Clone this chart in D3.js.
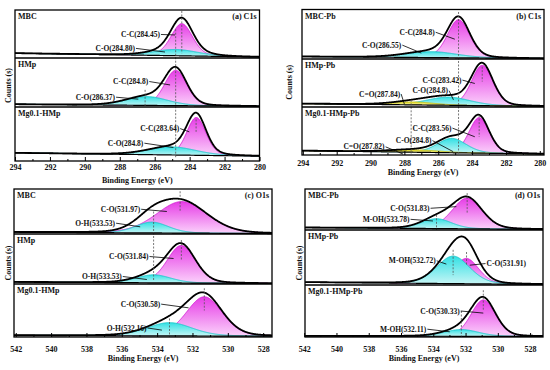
<!DOCTYPE html>
<html>
<head>
<meta charset="utf-8">
<script src="https://cdn.jsdelivr.net/npm/d3@7"></script>
<style>
body { margin: 0; background: #fff; }
text { font-family: "Liberation Serif", "Times New Roman", serif; font-weight: bold; font-size: 8px; fill: #111; }
text.peak-label { font-size: 7.5px; }
</style>
</head>
<body>
<svg id="chart" width="550" height="370"></svg>
<script>
/** data */
var panelTitles = ['(a) C1s', '(b) C1s', '(c) O1s', '(d) O1s'];
var sampleNames = [
	['MBC', 'HMp', 'Mg0.1-HMp'],
	['MBC-Pb', 'HMp-Pb', 'Mg0.1-HMp-Pb'],
	['MBC', 'HMp', 'Mg0.1-HMp'],
	['MBC-Pb', 'HMp-Pb', 'Mg0.1-HMp-Pb']
];
var energyRanges = [[294, 280], [294.05, 279.75], [542.1, 527.5], [541.95, 527.2]];
var majorTicks = [
	[294, 292, 290, 288, 286, 284, 282, 280],
	[294, 292, 290, 288, 286, 284, 282, 280],
	[542, 540, 538, 536, 534, 532, 530, 528],
	[542, 540, 538, 536, 534, 532, 530, 528]
];
var minorTicks = [
	[293, 291, 289, 287, 285, 283, 281],
	[293, 291, 289, 287, 285, 283, 281],
	[541, 539, 537, 535, 533, 531, 529],
	[541, 539, 537, 535, 533, 531, 529]
];
// background level at the high and low energy ends, per sample
var baselines = [
	[[0.10, 0.02], [0.055, 0.014], [0.15, 0.09]],
	[[0.05, 0.01], [0.07, 0.014], [0.09, 0.02]],
	[[0.04, 0.01], [0.04, 0.01], [0.03, 0.015]],
	[[0.06, 0.015], [0.05, 0.01], [0.02, 0.01]]
];
// fitted components: [kind, centre (eV), height, fwhm (eV)]; kind 0 magenta, 1 cyan, 2 yellow
var peaks = [
	[
		[[0, 284.45, 0.67, 1.45], [1, 284.8, 0.13, 3.0]],
		[[0, 284.8, 0.72, 1.5], [1, 286.45, 0.18, 2.8]],
		[[0, 283.62, 0.70, 1.3], [1, 285.0, 0.15, 3.2]]
	],
	[
		[[0, 284.8, 0.77, 1.55], [1, 286.4, 0.12, 3.5]],
		[[0, 283.4, 0.84, 1.5], [1, 285.4, 0.17, 3.0], [2, 287.5, 0.06, 3.0]],
		[[0, 283.58, 0.74, 1.4], [1, 285.2, 0.30, 2.0], [2, 287.4, 0.05, 3.5]]
	],
	[
		[[0, 532.6, 0.70, 3.4], [1, 534.3, 0.24, 2.2]],
		[[0, 532.63, 0.75, 1.9], [1, 534.2, 0.16, 2.3]],
		[[0, 531.33, 0.74, 2.4], [1, 533.3, 0.25, 3.0]]
	],
	[
		[[0, 531.9, 0.75, 2.2], [1, 533.8, 0.24, 2.2]],
		[[0, 531.95, 0.46, 1.8], [1, 532.77, 0.50, 2.4]],
		[[0, 530.9, 0.70, 1.8], [1, 532.26, 0.13, 2.5]]
	]
];
// annotations: [text, text eV, text level, arrow eV, arrow level, anchor]
var peakLabels = [
	[
		[['C-C(284.45)', 285.7, 0.49, 284.84, 0.48, 'end'], ['C-O(284.80)', 287.13, 0.2, 285.41, 0.125, 'end']],
		[['C-C(284.8)', 286.37, 0.52, 285.12, 0.45, 'end'], ['C-O(286.37)', 288.27, 0.2, 286.94, 0.16, 'end']],
		[['C-C(283.64)', 284.6, 0.6, 284.02, 0.54, 'end'], ['C-O(284.8)', 286.65, 0.33, 284.93, 0.25, 'end']]
	],
	[
		[['C-C(284.8)', 286.21, 0.54, 285.02, 0.40, 'end'], ['C-O(286.55)', 288.18, 0.28, 287.0, 0.12, 'end']],
		[['C-C(283.42)', 284.63, 0.56, 283.84, 0.49, 'end'], ['C-O(284.8)', 285.42, 0.34, 285.1, 0.15, 'end'], ['C=O(287.84)', 288.25, 0.27, 288.0, 0.06, 'end']],
		[['C-C(283.56)', 285.22, 0.56, 283.84, 0.38, 'end'], ['C-O(284.8)', 286.4, 0.3, 285.12, 0.07, 'end'], ['C=O(287.82)', 289.17, 0.17, 288.08, 0.02, 'end']]
	],
	[
		[['C-O(531.97)', 534.96, 0.55, 533.45, 0.5, 'end'], ['O-H(533.53)', 536.38, 0.24, 534.96, 0.16, 'end']],
		[['C-O(531.84)', 534.49, 0.55, 533.07, 0.51, 'end'], ['O-H(533.53)', 536.0, 0.15, 534.58, 0.09, 'end']],
		[['C-O(530.58)', 533.83, 0.62, 532.22, 0.55, 'end'], ['O-H(532.16)', 534.6, 0.17, 533.73, 0.13, 'end']]
	],
	[
		[['C-O(531.83)', 534.23, 0.53, 532.57, 0.57, 'end'], ['M-OH(533.78)', 535.47, 0.26, 534.02, 0.22, 'end']],
		[['M-OH(532.72)', 533.85, 0.44, 533.19, 0.38, 'end'], ['C-O(531.91)', 530.7, 0.39, 531.74, 0.36, 'start']],
		[['C-O(530.33)', 532.36, 0.5, 530.9, 0.46, 'end'], ['M-OH(532.11)', 534.43, 0.15, 532.98, 0.1, 'end']]
	]
];
// dashed guides: [eV, from row, from level, to row, to level]
var guideLines = [
	[[284.8, 0, 0.6, 2, 0.07], [284.45, 0, 0.98, 0, 0.1], [286.55, 1, 0.35, 1, 0.0], [283.63, 2, 0.77, 2, 0.54]],
	[[284.8, 0, 0.95, 2, 0.03], [287.6, 1, 0.15, 2, 0.03], [283.4, 1, 0.84, 1, 0.53], [283.58, 2, 0.83, 2, 0.38]],
	[[534.2, 0, 0.5, 1, 0.05], [532.7, 0, 0.95, 0, 0.5], [532.63, 1, 0.88, 1, 0.48], [531.33, 2, 0.92, 2, 0.5], [533.3, 2, 0.35, 2, 0.0]],
	[[531.9, 0, 0.9, 0, 0.4], [533.8, 0, 0.37, 0, 0.0], [532.77, 1, 0.64, 1, 0.18], [531.94, 1, 0.6, 1, 0.36], [530.9, 2, 0.9, 2, 0.5], [532.26, 2, 0.5, 2, 0.0]]
];

/** layout */
var layout = [
	{ x0: 15, x1: 259.5, rows: [10, 58, 107, 161], tickY: 170.5, titleY: 183, yLabelX: 8 },
	{ x0: 302, x1: 544, rows: [9.5, 59, 107, 155], tickY: 166, titleY: 174.5, yLabelX: 289 },
	{ x0: 14, x1: 272, rows: [189, 234, 284, 337], tickY: 352, titleY: 361, yLabelX: 8 },
	{ x0: 305, x1: 543, rows: [189, 230, 285, 337], tickY: 352, titleY: 361, yLabelX: 299 }
];
var kindStyles = [
	{ top: '#e63ce6', bottom: '#fbd3fb', stroke: '#d21fd2' },
	{ top: '#33e0e4', bottom: '#c9f6f6', stroke: '#17c4c8' },
	{ top: '#e6e030', bottom: '#fbf7c4', stroke: '#c4bc10' }
];
var LORENTZ_MIX = 0.2;

var svg = d3.select('#chart');
var defs = svg.append('defs');

kindStyles.forEach(function(k, i) {
	var g = defs.append('linearGradient').attr('id', 'grad' + i)
		.attr('x1', 0).attr('y1', 0).attr('x2', 0).attr('y2', 1);
	g.append('stop').attr('offset', '0%').attr('stop-color', k.top);
	g.append('stop').attr('offset', '100%').attr('stop-color', k.bottom);
});

var pseudoVoigt = function(e, p) {
	var t = 4 * (e - p[1]) * (e - p[1]) / (p[3] * p[3]);
	return p[2] * (LORENTZ_MIX / (1 + t) + (1 - LORENTZ_MIX) * Math.exp(-Math.LN2 * t));
};

var drawPanel = function(pi) {
	var L = layout[pi];
	var dom = energyRanges[pi];
	var x = d3.scaleLinear().domain(dom).range([L.x0, L.x1]);
	var g = svg.append('g');
	var bottom = L.rows[3];

	var clipId = 'clip' + pi;
	defs.append('clipPath').attr('id', clipId).append('rect')
		.attr('x', L.x0).attr('y', L.rows[0]).attr('width', L.x1 - L.x0).attr('height', bottom - L.rows[0]);

	var yScales = [0, 1, 2].map(function(r) {
		return d3.scaleLinear().domain([0, 1]).range([L.rows[r + 1], L.rows[r]]);
	});

	var lo = Math.min(dom[0], dom[1]), hi = Math.max(dom[0], dom[1]);
	var energies = d3.range(lo, hi + 0.01, 0.02);
	var plot = g.append('g').attr('clip-path', 'url(#' + clipId + ')');

	[0, 1, 2].forEach(function(r) {
		var y = yScales[r];
		var bl = baselines[pi][r];
		var baseAt = function(e) {
			return bl[0] + (bl[1] - bl[0]) * (dom[0] - e) / (dom[0] - dom[1]);
		};
		var rowPeaks = peaks[pi][r].slice().sort(function(a, b) { return a[0] - b[0]; });

		/** components */
		rowPeaks.forEach(function(p) {
			var pts = energies.filter(function(e) { return Math.abs(e - p[1]) <= 2.6 * p[3]; });
			var area = d3.area()
				.x(function(e) { return x(e); })
				.y0(function(e) { return y(baseAt(e)); })
				.y1(function(e) { return y(baseAt(e) + pseudoVoigt(e, p)); });
			plot.append('path').datum(pts).attr('d', area)
				.attr('fill', 'url(#grad' + p[0] + ')');
			var top = d3.line()
				.x(function(e) { return x(e); })
				.y(function(e) { return y(baseAt(e) + pseudoVoigt(e, p)); });
			plot.append('path').datum(pts).attr('d', top)
				.attr('fill', 'none').attr('stroke', kindStyles[p[0]].stroke).attr('stroke-width', 0.9);
		});

		/** background and envelope */
		plot.append('path').datum(energies)
			.attr('d', d3.line().x(function(e) { return x(e); }).y(function(e) { return y(baseAt(e)); }))
			.attr('fill', 'none').attr('stroke', '#000').attr('stroke-width', 1.2);
		plot.append('path').datum(energies)
			.attr('d', d3.line().x(function(e) { return x(e); }).y(function(e) {
				return y(baseAt(e) + d3.sum(rowPeaks, function(p) { return pseudoVoigt(e, p); }));
			}))
			.attr('fill', 'none').attr('stroke', '#000').attr('stroke-width', 1.8);

		/** sample name */
		g.append('text').attr('x', L.x0 + 3).attr('y', L.rows[r] + 9).text(sampleNames[pi][r]);
	});

	/** dashed guides */
	guideLines[pi].forEach(function(d) {
		plot.append('line')
			.attr('x1', x(d[0])).attr('x2', x(d[0]))
			.attr('y1', yScales[d[1]](d[2])).attr('y2', yScales[d[3]](d[4]))
			.attr('stroke', '#555').attr('stroke-width', 0.8).attr('stroke-dasharray', '2,1.5');
	});

	/** peak labels */
	[0, 1, 2].forEach(function(r) {
		var y = yScales[r];
		peakLabels[pi][r].forEach(function(d) {
			var tx = x(d[1]), ty = y(d[2]);
			g.append('text').attr('class', 'peak-label').attr('x', tx).attr('y', ty).attr('dy', '0.35em')
				.attr('text-anchor', d[5]).text(d[0]);
			var sx = d[5] === 'end' ? tx + 1 : tx - 1;
			g.append('line').attr('x1', sx).attr('y1', ty).attr('x2', x(d[3])).attr('y2', y(d[4]))
				.attr('stroke', '#000').attr('stroke-width', 0.8);
		});
	});

	/** frame and dividers */
	g.append('rect').attr('x', L.x0).attr('y', L.rows[0])
		.attr('width', L.x1 - L.x0).attr('height', bottom - L.rows[0])
		.attr('fill', 'none').attr('stroke', '#000').attr('stroke-width', 1.3);
	[1, 2].forEach(function(r) {
		g.append('line').attr('x1', L.x0).attr('x2', L.x1)
			.attr('y1', L.rows[r]).attr('y2', L.rows[r])
			.attr('stroke', '#000').attr('stroke-width', 1.3);
	});

	/** axis */
	var major = d3.axisBottom(x).tickValues(majorTicks[pi]).tickSize(-4)
		.tickPadding(L.tickY - bottom - 5.7).tickFormat(d3.format('d'));
	var ax = g.append('g').attr('transform', 'translate(0,' + bottom + ')').call(major);
	ax.select('.domain').remove();
	ax.selectAll('line').attr('stroke', '#000').attr('stroke-width', 1);
	var minor = d3.axisBottom(x).tickValues(minorTicks[pi]).tickSize(-2).tickFormat('');
	var axm = g.append('g').attr('transform', 'translate(0,' + bottom + ')').call(minor);
	axm.select('.domain').remove();
	axm.selectAll('line').attr('stroke', '#000').attr('stroke-width', 1);

	/** titles */
	g.append('text').attr('x', L.x1 - 3).attr('y', L.rows[0] + 9).attr('text-anchor', 'end').text(panelTitles[pi]);
	g.append('text').attr('x', (L.x0 + L.x1) / 2).attr('y', L.titleY).attr('text-anchor', 'middle').text('Binding Energy (eV)');
	g.append('text').attr('transform', 'translate(' + L.yLabelX + ',' + ((L.rows[0] + bottom) / 2) + ') rotate(-90)')
		.attr('dy', '0.35em').attr('text-anchor', 'middle').text('Counts (s)');
};

[0, 1, 2, 3].forEach(drawPanel);
</script>
</body>
</html>
